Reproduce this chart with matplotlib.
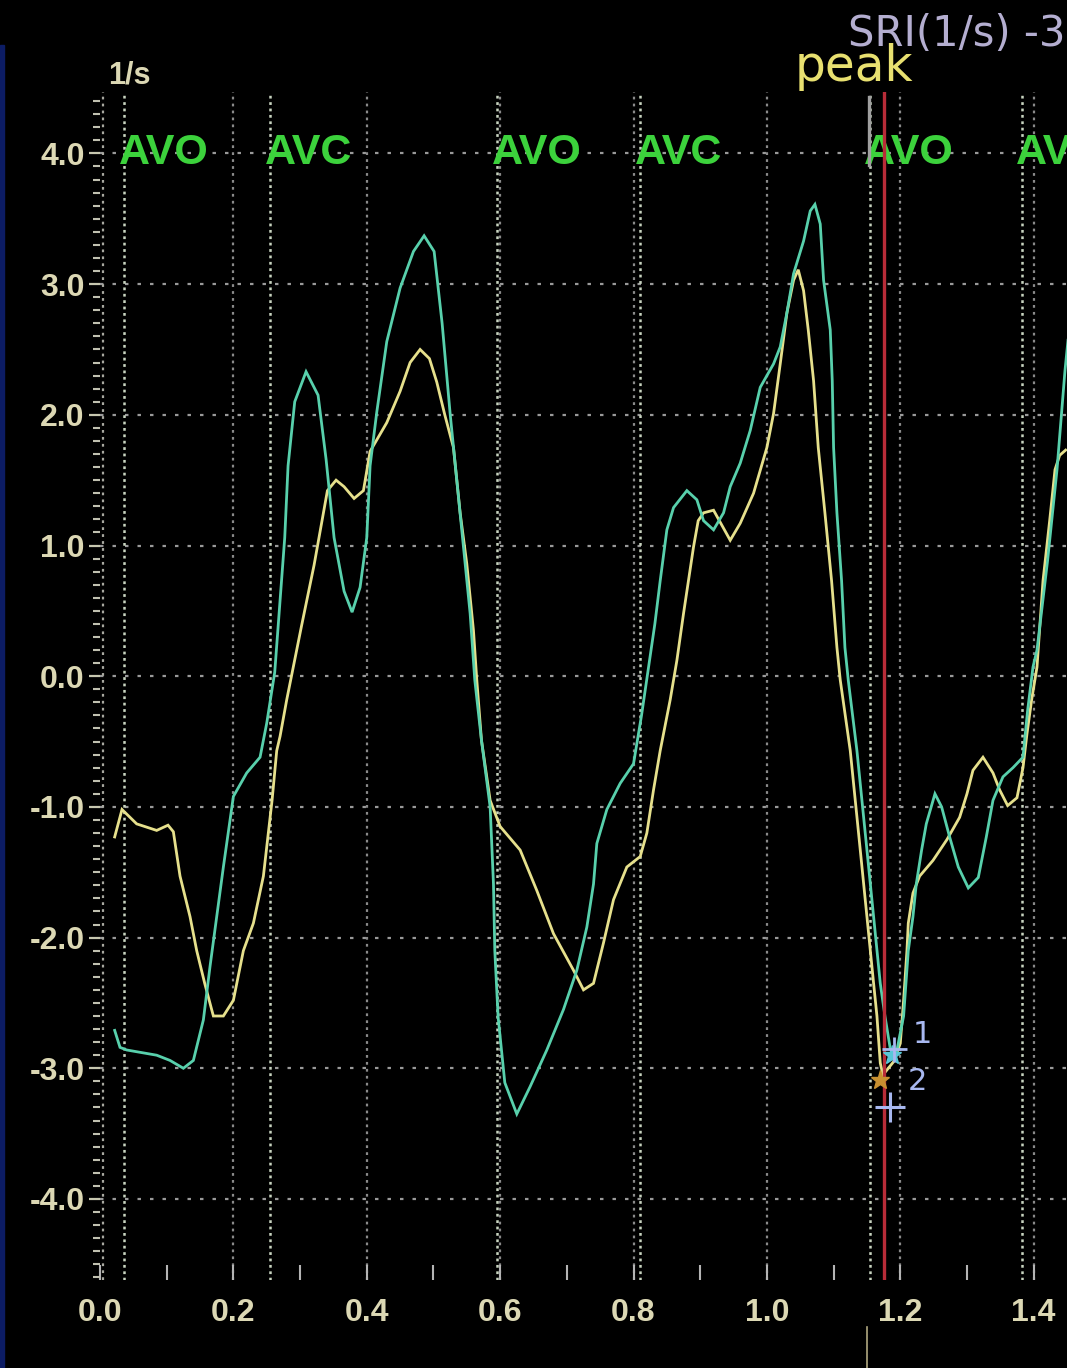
import matplotlib
matplotlib.use("Agg")
import matplotlib.pyplot as plt
from matplotlib.ticker import MultipleLocator, FixedLocator, FixedFormatter
from matplotlib.lines import Line2D
from matplotlib.patches import Rectangle

plt.rcParams['font.family'] = ['Liberation Sans', 'DejaVu Sans']
plt.rcParams['lines.scale_dashes'] = False

# ---- strain-rate traces (time in s, SRI in 1/s) ----
cyan_t = [0.022, 0.030, 0.040, 0.085, 0.105, 0.125, 0.140, 0.155, 0.165, 0.175,
          0.185, 0.200, 0.220, 0.240, 0.250, 0.262, 0.277, 0.282, 0.292, 0.309,
          0.327, 0.339, 0.351, 0.366, 0.378, 0.390, 0.400, 0.405, 0.415, 0.430,
          0.450, 0.470, 0.486, 0.501, 0.513, 0.525, 0.535, 0.545, 0.555, 0.562,
          0.572, 0.585, 0.590, 0.592, 0.597, 0.607, 0.625, 0.645, 0.670, 0.695,
          0.715, 0.730, 0.740, 0.745, 0.760, 0.780, 0.800, 0.812, 0.822, 0.832,
          0.840, 0.850, 0.860, 0.880, 0.895, 0.905, 0.920, 0.935, 0.945, 0.960,
          0.975, 0.990, 1.010, 1.020, 1.030, 1.040, 1.055, 1.065, 1.072, 1.080,
          1.085, 1.095, 1.098, 1.100, 1.105, 1.112, 1.117, 1.122, 1.135, 1.150,
          1.160, 1.170, 1.177, 1.185, 1.192, 1.205, 1.212, 1.219, 1.224, 1.232,
          1.239, 1.252, 1.262, 1.274, 1.287, 1.302, 1.317, 1.329, 1.339, 1.354,
          1.369, 1.384, 1.391, 1.399, 1.405, 1.421, 1.435, 1.447, 1.455]
cyan_v = [-2.71, -2.84, -2.86, -2.90, -2.94, -3.00, -2.94, -2.63, -2.22, -1.84,
          -1.46, -0.92, -0.74, -0.62, -0.36, 0.03, 1.06, 1.61, 2.10, 2.33,
          2.15, 1.66, 1.06, 0.65, 0.49, 0.68, 1.06, 1.61, 2.02, 2.56,
          2.97, 3.25, 3.37, 3.25, 2.70, 2.01, 1.50, 0.99, 0.48, -0.03,
          -0.49, -1.00, -1.59, -2.10, -2.61, -3.11, -3.35, -3.14, -2.86, -2.55,
          -2.25, -1.92, -1.59, -1.28, -1.02, -0.82, -0.67, -0.30, 0.05, 0.40,
          0.73, 1.12, 1.29, 1.42, 1.35, 1.19, 1.12, 1.25, 1.45, 1.63,
          1.88, 2.21, 2.39, 2.52, 2.78, 3.08, 3.33, 3.56, 3.61, 3.46,
          3.03, 2.65, 2.26, 1.75, 1.25, 0.73, 0.22, -0.03, -0.57, -1.33,
          -1.84, -2.35, -2.60, -2.85, -2.94, -2.60, -2.10, -1.84, -1.59, -1.33,
          -1.13, -0.90, -1.00, -1.23, -1.46, -1.62, -1.54, -1.23, -0.95, -0.77,
          -0.70, -0.62, -0.26, 0.07, 0.20, 0.89, 1.58, 2.34, 2.75]

yellow_t = [0.022, 0.033, 0.055, 0.085, 0.102, 0.110, 0.120, 0.135, 0.145, 0.157,
            0.170, 0.185, 0.200, 0.215, 0.230, 0.245, 0.258, 0.265, 0.270, 0.280,
            0.302, 0.321, 0.341, 0.354, 0.366, 0.381, 0.395, 0.405, 0.430, 0.450,
            0.465, 0.480, 0.494, 0.505, 0.517, 0.530, 0.540, 0.550, 0.560, 0.565,
            0.572, 0.585, 0.600, 0.630, 0.655, 0.680, 0.710, 0.725, 0.740, 0.755,
            0.770, 0.790, 0.810, 0.820, 0.830, 0.840, 0.855, 0.865, 0.875, 0.890,
            0.897, 0.905, 0.920, 0.945, 0.960, 0.980, 1.000, 1.010, 1.020, 1.030,
            1.040, 1.047, 1.055, 1.062, 1.070, 1.077, 1.087, 1.097, 1.105, 1.110,
            1.125, 1.140, 1.150, 1.160, 1.165, 1.170, 1.174, 1.190, 1.200, 1.205,
            1.210, 1.212, 1.219, 1.229, 1.249, 1.270, 1.289, 1.300, 1.309, 1.324,
            1.339, 1.349, 1.361, 1.375, 1.384, 1.390, 1.397, 1.405, 1.414, 1.424,
            1.432, 1.439, 1.448]
yellow_v = [-1.23, -1.02, -1.13, -1.18, -1.14, -1.19, -1.53, -1.84, -2.10, -2.35,
            -2.60, -2.60, -2.48, -2.10, -1.89, -1.53, -0.95, -0.57, -0.46, -0.18,
            0.38, 0.85, 1.42, 1.50, 1.45, 1.36, 1.42, 1.72, 1.94, 2.18,
            2.40, 2.50, 2.43, 2.25, 2.00, 1.75, 1.25, 0.86, 0.35, -0.03,
            -0.49, -0.95, -1.15, -1.33, -1.64, -1.97, -2.25, -2.40, -2.35, -2.04,
            -1.71, -1.46, -1.38, -1.20, -0.87, -0.57, -0.18, 0.12, 0.48, 0.99,
            1.19, 1.25, 1.27, 1.04, 1.17, 1.40, 1.75, 2.01, 2.39, 2.78,
            3.03, 3.11, 2.95, 2.65, 2.26, 1.75, 1.25, 0.73, 0.22, -0.03,
            -0.57, -1.33, -1.84, -2.35, -2.60, -2.96, -3.05, -2.95, -2.81, -2.48,
            -2.10, -1.89, -1.66, -1.53, -1.41, -1.25, -1.08, -0.90, -0.72, -0.62,
            -0.74, -0.87, -0.99, -0.93, -0.70, -0.44, -0.18, 0.07, 0.73, 1.19,
            1.58, 1.69, 1.73]

# ---- valve events and annotations ----
event_times = [0.036, 0.255, 0.595, 0.810, 1.154, 1.382]
event_labels = ["AVO", "AVC", "AVO", "AVC", "AVO", "AVC"]
cursor_time = 1.175
peak_label = "peak"
y_ticks = [4.0, 3.0, 2.0, 1.0, 0.0, -1.0, -2.0, -3.0, -4.0]
y_tick_labels = ["4.0", "3.0", "2.0", "1.0", "0.0", "-1.0", "-2.0", "-3.0", "-4.0"]
x_ticks = [0.0, 0.2, 0.4, 0.6, 0.8, 1.0, 1.2, 1.4]
x_tick_labels = ["0.0", "0.2", "0.4", "0.6", "0.8", "1.0", "1.2", "1.4"]
peak_points_t = [1.187, 1.169]
peak_points_v = [-2.90, -3.09]
peak_point_names = ["1", "2"]

W, H = 1067, 1368
fig = plt.figure(figsize=(W / 100, H / 100), dpi=100, facecolor="black")


def fx(px):
    return px / W


def fy(py):
    return 1 - py / H


ax = fig.add_axes([fx(100), fy(1280), fx(W - 100), (1280 - 92) / H], facecolor="black")
ax.set_xlim(0, 1.45)
ax.set_ylim(-4.62, 4.47)
for s in ax.spines.values():
    s.set_visible(False)

label_color = "#dcd8b4"
ax.yaxis.set_major_locator(FixedLocator(y_ticks))
ax.yaxis.set_major_formatter(FixedFormatter(y_tick_labels))
ax.yaxis.set_minor_locator(MultipleLocator(0.1))
ax.xaxis.set_major_locator(FixedLocator(x_ticks))
ax.xaxis.set_major_formatter(FixedFormatter(x_tick_labels))
ax.xaxis.set_minor_locator(MultipleLocator(0.1))
ax.tick_params(axis="y", which="major", direction="out", length=8, width=1.6,
               color="#c8c8b0", pad=3, labelsize=23, labelcolor=label_color)
ax.tick_params(axis="y", which="minor", direction="out", length=5, width=1.5,
               color="#c0c0b0")
ax.tick_params(axis="x", which="both", direction="in", length=11, width=1.5,
               color="#b4b4b4", pad=13, labelsize=23, labelcolor=label_color)
for lab in ax.get_xticklabels() + ax.get_yticklabels():
    lab.set_fontweight("bold")

# dotted grid
for v in y_ticks:
    ax.axhline(v, color="#9a9a9a", lw=1.6, dashes=(2.5, 6.5), zorder=1)
for t in x_ticks[1:]:
    ax.axvline(t, color="#8a8a8a", lw=1.6, dashes=(2.0, 3.0), zorder=1)
ax.axvline(0.004, color="#a8a8a0", lw=1.6, dashes=(2.0, 3.0), zorder=1)

# valve event markers
for t, name in zip(event_times, event_labels):
    ax.axvline(t, color="#c8d4c0", lw=1.8, dashes=(2.0, 2.6), zorder=2)
    ax.text(t - 0.008, 4.0, name, color="#3cd23c", fontsize=31, fontweight="bold",
            ha="left", va="center", zorder=4, clip_on=False)

# traces
ax.plot(yellow_t, yellow_v, color="#e6e08c", lw=2.0, zorder=5, solid_joinstyle="miter")
ax.plot(cyan_t, cyan_v, color="#58d0ac", lw=2.0, zorder=5, solid_joinstyle="miter")

# cursor at the peak
ax.axvline(cursor_time, color="#b82c38", lw=2.4, zorder=6)
ax.plot([1.153, 1.153], [4.43, 3.91], color="#a0a0a0", lw=2.4, zorder=6)

# picked peak points
ax.plot(peak_points_t[0], peak_points_v[0], marker="*", ms=14, color="#58c8d8",
        zorder=7)
ax.plot(peak_points_t[0] + 0.004, peak_points_v[0] + 0.05, marker="+", ms=18,
        mew=2, color="#a8b8f0", zorder=8)
ax.plot(peak_points_t[1], peak_points_v[1], marker="*", ms=14, color="#c89030",
        zorder=7)
ax.plot(1.184, -3.30, marker="+", ms=22, mew=2.2, color="#a8b8f0", zorder=8)
ax.text(1.219, -2.74, peak_point_names[0], color="#a8b8f0", fontsize=22,
        ha="left", va="center", zorder=8, family="DejaVu Sans")
ax.text(1.211, -3.10, peak_point_names[1], color="#a8b8f0", fontsize=22,
        ha="left", va="center", zorder=8, family="DejaVu Sans")

# header texts
fig.text(fx(108), fy(76), "1/s", color=label_color, fontsize=22, fontweight="bold",
         ha="left", va="center")
fig.text(fx(795), fy(81), peak_label, color="#e8e070", fontsize=35,
         ha="left", va="baseline", family="DejaVu Sans")
fig.text(fx(848), fy(46), "SRI(1/s) -3", color="#b4aed0", fontsize=30,
         ha="left", va="baseline", family="DejaVu Sans")

# panel edge
fig.patches.append(Rectangle((0, 0), fx(4), fy(45), transform=fig.transFigure,
                             color="#0c1c64", zorder=0))
fig.lines.append(Line2D([fx(867), fx(867)], [fy(1327), 0], transform=fig.transFigure,
                        color="#b0a880", lw=1.2))

fig.savefig("out.png", dpi=100, facecolor="black")
